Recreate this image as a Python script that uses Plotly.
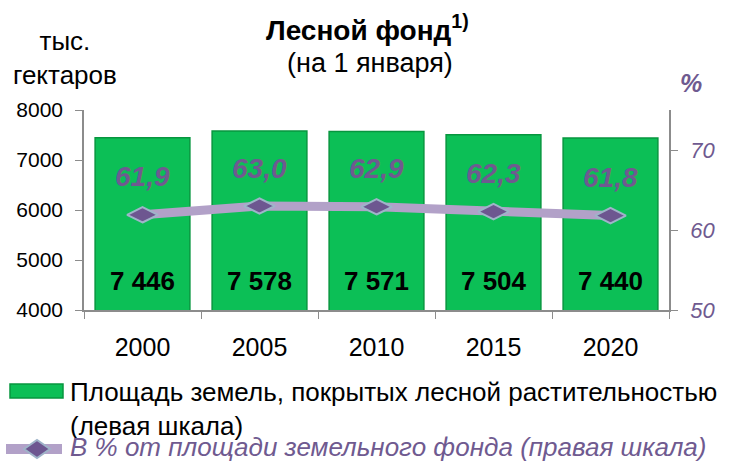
import plotly.graph_objects as go

years = ["2000", "2005", "2010", "2015", "2020"]
forest_area = [7446, 7578, 7571, 7504, 7440]
forest_labels = ["7 446", "7 578", "7 571", "7 504", "7 440"]
share_pct = [61.9, 63.0, 62.9, 62.3, 61.8]
share_labels = ["61,9", "63,0", "62,9", "62,3", "61,8"]

FONT = "Liberation Sans, Arial, sans-serif"
PURPLE = "#6f5a90"
GREEN = "#0cbf56"
GREEN_EDGE = "#07963f"
LAVENDER = "#b2a1c8"
MARKER = "#6d5690"
MARKER_EDGE = "#9fb4c9"
AXIS = "#8c8c8c"

# plot area in pixels: x 84..669, y 110..310
L, R, T, B = 84, 669, 110, 310


def pap(px_x, px_y):
    return (px_x - L) / (R - L), (B - px_y) / (B - T)


fig = go.Figure()
fig.add_trace(go.Bar(
    x=years, y=forest_area, name="Площадь земель, покрытых лесной растительностью (левая шкала)",
    marker=dict(color=GREEN, line=dict(color=GREEN_EDGE, width=1.5)),
    yaxis="y", showlegend=False,
))
fig.add_trace(go.Scatter(
    x=years, y=[4540] * len(years), text=forest_labels, mode="text",
    textfont=dict(family=FONT, size=26, color="black", weight="bold"),
    showlegend=False, hoverinfo="skip", yaxis="y",
))
fig.add_trace(go.Scatter(
    x=years, y=share_pct, mode="lines+markers",
    name="В % от площади земельного фонда (правая шкала)",
    line=dict(color=LAVENDER, width=9),
    marker=dict(symbol="diamond-wide", size=22, color=MARKER, line=dict(color=MARKER_EDGE, width=2)),
    yaxis="y2", showlegend=False,
))
for i, (v, lab) in enumerate(zip(share_pct, share_labels)):
    fig.add_annotation(x=i, y=v, xref="x", yref="y2", text="<b><i>%s</i></b>" % lab, showarrow=False,
                       xanchor="center", yanchor="middle",
                       yshift=38, font=dict(family=FONT, size=28, color=PURPLE))


def label(px_x, px_y, text, size, color="black", xanchor="center"):
    tx, ty = pap(px_x, px_y)
    fig.add_annotation(x=tx, y=ty, xref="paper", yref="paper", xanchor=xanchor, yanchor="middle",
                       align="left" if xanchor == "left" else "center",
                       text=text, showarrow=False, font=dict(family=FONT, size=size, color=color))


# titles
label(367, 28, "<b>Лесной фонд<sup>1)</sup></b>", 28)
label(370, 63, "(на 1 января)", 27)
label(65, 58, "тыс.<br>гектаров", 26)
label(691, 83, "<b><i>%</i></b>", 25, PURPLE)

# legend (drawn below the plot)
x0, y0 = pap(10, 384)
x1, y1 = pap(63, 398)
fig.add_shape(type="rect", xref="paper", yref="paper", x0=x0, x1=x1, y0=y0, y1=y1,
              fillcolor=GREEN, line=dict(color=GREEN_EDGE, width=1.5))
label(68, 409, "Площадь земель, покрытых лесной растительностью<br>(левая шкала)", 26,
      xanchor="left")
x0, y0 = pap(6, 449)
x1, _ = pap(62, 449)
fig.add_shape(type="line", xref="paper", yref="paper", x0=x0, x1=x1, y0=y0, y1=y0,
              line=dict(color=LAVENDER, width=10))
cx, cy = pap(37, 449)
dx = 13 / (R - L)
dy = 9 / (B - T)
fig.add_shape(type="path", xref="paper", yref="paper",
              path="M %f %f L %f %f L %f %f L %f %f Z" % (cx - dx, cy, cx, cy + dy, cx + dx, cy, cx, cy - dy),
              fillcolor=MARKER, line=dict(color=MARKER_EDGE, width=2))
label(68, 447, "<i>В % от площади земельного фонда (правая шкала)</i>", 26, PURPLE, xanchor="left")

fig.update_layout(
    width=733, height=464,
    margin=dict(l=L, r=733 - R, t=T, b=464 - B, autoexpand=False),
    paper_bgcolor="white", plot_bgcolor="white",
    bargap=0.19, showlegend=False,
    font=dict(family=FONT, size=20, color="black"),
    xaxis=dict(type="category", categoryorder="array", categoryarray=years,
               range=[-0.5, len(years) - 0.5], autorange=False,
               showline=True, linecolor=AXIS, linewidth=1.5,
               ticks="outside", tickson="boundaries", ticklen=7, tickcolor=AXIS,
               tickfont=dict(size=25), showgrid=False, tickangle=0, ticklabelstandoff=14),
    yaxis=dict(range=[4000, 8000], tickvals=[4000, 5000, 6000, 7000, 8000],
               showline=True, linecolor=AXIS, linewidth=1.5, ticks="outside",
               ticklen=7, tickcolor=AXIS, showgrid=False, zeroline=False,
               tickfont=dict(size=21), ticklabelstandoff=8),
    yaxis2=dict(range=[50, 75], tickvals=[50, 60, 70], overlaying="y", side="right",
                showline=True, linecolor=AXIS, linewidth=1.5, ticks="outside",
                ticklen=7, tickcolor=AXIS, showgrid=False, zeroline=False,
                tickfont=dict(size=22, color=PURPLE, style="italic"), ticklabelstandoff=8),
)
fig.write_html("out.html")
